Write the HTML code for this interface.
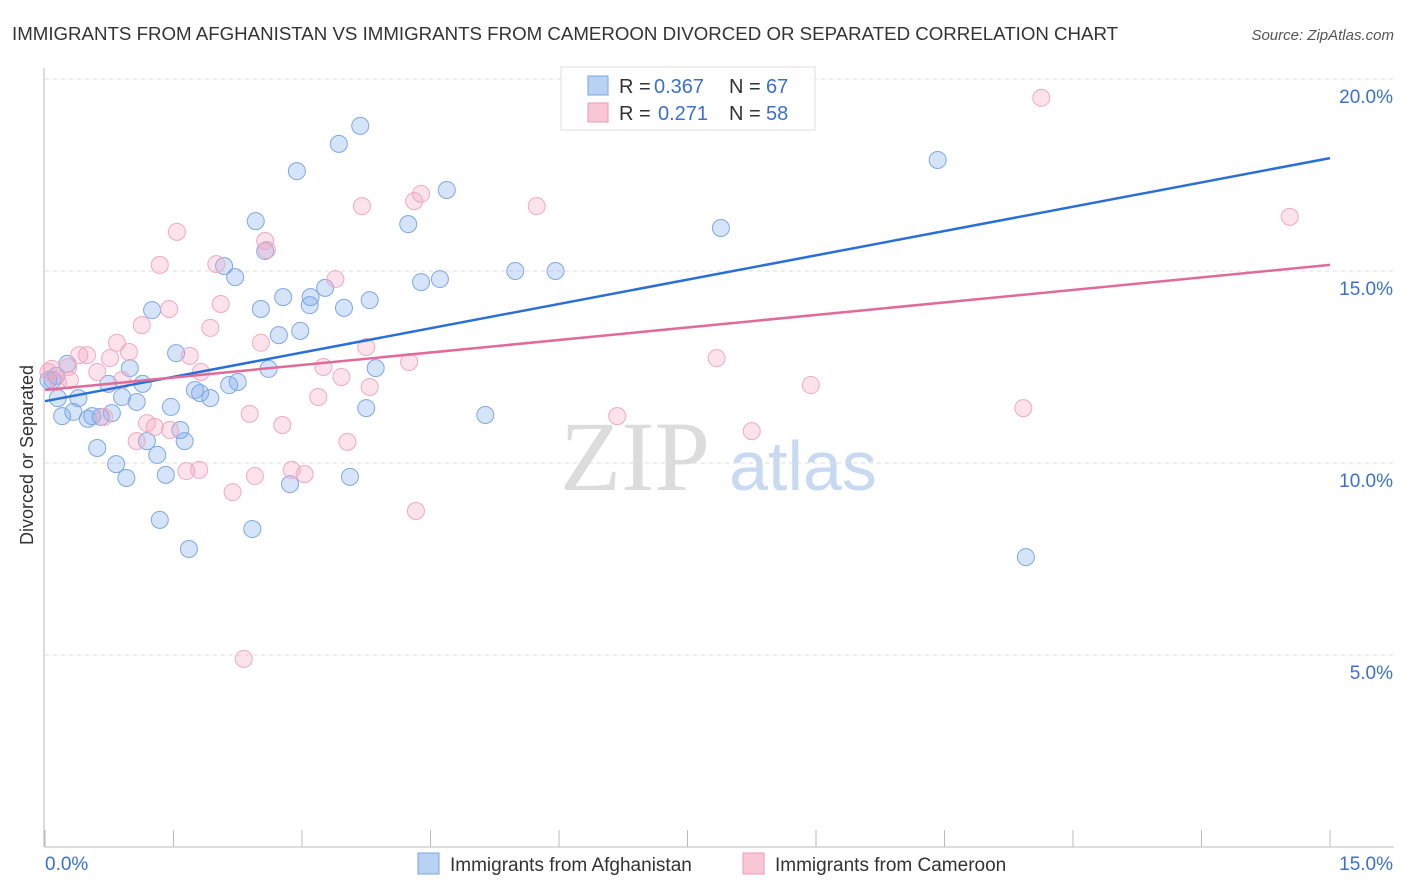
<!DOCTYPE html>
<html><head><meta charset="utf-8"><style>
body{margin:0;background:#fff;font-family:"Liberation Sans",sans-serif;}
svg{display:block}
</style></head><body>
<svg id="chart" width="1406" height="892">
<text x="12" y="40" font-size="18.7" fill="#333">IMMIGRANTS FROM AFGHANISTAN VS IMMIGRANTS FROM CAMEROON DIVORCED OR SEPARATED CORRELATION CHART</text>
<text x="1394" y="40" font-size="15" fill="#555" font-style="italic" text-anchor="end">Source: ZipAtlas.com</text>
<text x="33" y="455" font-size="18" fill="#333" text-anchor="middle" transform="rotate(-90 33 455)">Divorced or Separated</text>
<g>
<text x="635" y="490" font-family="Liberation Serif,serif" font-size="100" fill="#dcdcdc" text-anchor="middle">ZIP</text>
<text x="803" y="490" font-size="70" fill="#c8daf2" text-anchor="middle">atlas</text>
</g>
<g id="grid"></g><g id="axes"></g><g id="pts"></g><g id="trend"></g>
<g>
<rect x="561" y="67" width="254" height="63" fill="#fff" stroke="#ddd"/>
<rect x="588" y="76" width="20" height="19" fill="#b8d2f4" stroke="#7aa6e6"/>
<rect x="588" y="103" width="20" height="19" fill="#f9c6d6" stroke="#ee9ab6"/>
<text x="619" y="93" font-size="20" fill="#333">R =</text>
<text x="654" y="93" font-size="20" fill="#3a70d0">0.367</text>
<text x="729" y="93" font-size="20" fill="#333">N =</text>
<text x="766" y="93" font-size="20" fill="#3a70d0">67</text>
<text x="619" y="120" font-size="20" fill="#333">R =</text>
<text x="658" y="120" font-size="20" fill="#3a70d0">0.271</text>
<text x="729" y="120" font-size="20" fill="#333">N =</text>
<text x="766" y="120" font-size="20" fill="#3a70d0">58</text>
</g>
<g>
<rect x="418" y="853" width="21" height="21" fill="#b8d2f4" stroke="#7aa6e6"/>
<text x="450" y="871" font-size="19" fill="#333">Immigrants from Afghanistan</text>
<rect x="743" y="853" width="21" height="21" fill="#f9c6d6" stroke="#ee9ab6"/>
<text x="775" y="871" font-size="19" fill="#333">Immigrants from Cameroon</text>
</g>
</svg>
<script>
const blueX=[3.68,3.43,2.94,4.69,4.24,2.46,2.57,2.09,2.22,5.49,5.96,4.39,4.61,3.27,2.78,3.10,3.09,3.79,3.49,2.52,1.25,2.98,2.73,1.53,0.26,0.99,2.61,3.86,0.13,0.04,0.74,1.14,2.25,2.15,1.75,1.81,0.39,0.90,0.15,1.07,1.93,1.47,3.75,5.14,0.33,0.20,0.55,0.65,0.78,1.58,1.19,1.63,0.61,1.31,0.83,1.41,0.95,3.56,2.86,1.34,2.42,1.68,7.89,10.42,11.45,0.09,0.50];
const blueY=[18.78,18.31,17.60,17.11,16.22,16.30,15.52,15.13,14.84,15.0,15.0,14.71,14.79,14.56,14.32,14.32,14.11,14.24,14.04,14.01,13.98,13.44,13.33,12.86,12.58,12.47,12.45,12.47,12.27,12.16,12.06,12.06,12.11,12.03,11.90,11.82,11.69,11.72,11.69,11.59,11.69,11.46,11.43,11.25,11.33,11.22,11.22,11.20,11.30,10.86,10.57,10.57,10.39,10.21,9.97,9.69,9.61,9.64,9.45,8.52,8.28,7.76,16.12,17.89,7.55,12.16,11.15];
const pinkX=[11.63,14.53,5.74,4.39,4.31,3.70,1.54,2.57,2.59,1.34,2.00,3.39,2.05,1.45,1.13,1.93,0.84,0.98,2.52,3.75,0.40,0.49,0.76,1.69,0.27,0.08,4.25,3.25,1.82,0.61,0.90,0.29,0.15,3.46,3.79,3.19,8.94,7.84,2.39,11.42,6.68,1.19,2.77,1.28,1.46,8.25,1.07,3.53,1.65,1.80,2.88,3.03,2.45,2.19,4.33,2.32,0.04,0.69];
const pinkY=[19.51,16.41,16.69,17.01,16.82,16.69,16.02,15.78,15.55,15.16,15.18,14.79,14.14,14.01,13.59,13.52,13.13,12.89,13.13,13.02,12.81,12.81,12.73,12.79,12.50,12.45,12.63,12.50,12.37,12.37,12.16,12.16,12.11,12.24,11.98,11.72,12.03,12.73,11.28,11.43,11.22,11.04,10.99,10.94,10.86,10.83,10.57,10.55,9.79,9.82,9.82,9.71,9.66,9.24,8.75,4.90,12.37,11.20];
const blueTrend=[11.61,17.94];
const pinkTrend=[11.9,15.16];
const yTicks=[5,10,15,20];
const xTickLabels=["0.0%","15.0%"];
const NS='http://www.w3.org/2000/svg';
const X=v=>45+v*(1285/15), Y=v=>847-v*38.4;
function mk(t,a,p){const e=document.createElementNS(NS,t);for(const k in a)e.setAttribute(k,a[k]);p.appendChild(e);return e;}
const grid=document.getElementById('grid'),axes=document.getElementById('axes');
yTicks.forEach(v=>{
 const l=mk('line',{x1:45,x2:1394,y1:Y(v),y2:Y(v),stroke:'#ddd','stroke-dasharray':'4 4'},grid);
 
 
 const t=mk('text',{x:1393,y:Y(v)+24,'font-size':19,fill:'#3a70d0','text-anchor':'end'},axes);
 t.textContent=v.toFixed(1)+'%';
 
 
});
mk('line',{x1:44,x2:44,y1:68,y2:847,stroke:'#bbb'},axes);
mk('line',{x1:44,x2:1394,y1:847,y2:847,stroke:'#bbb'},axes);
for(let i=0;i<=10;i++){const x=X(i*1.5);mk('line',{x1:x,x2:x,y1:830,y2:847,stroke:'#bbb'},axes);}
const t0=mk('text',{x:45,y:870,'font-size':19,fill:'#3a70d0'},axes);t0.textContent=xTickLabels[0];


const t1=mk('text',{x:1393,y:870,'font-size':19,fill:'#3a70d0','text-anchor':'end'},axes);t1.textContent=xTickLabels[1];


const pts=document.getElementById('pts');
blueX.forEach((v,i)=>{const c=mk('circle',{cx:X(v),cy:Y(blueY[i]),r:8.5,fill:'rgba(120,165,235,0.3)',stroke:'#7ea8e4','stroke-width':1},pts);
 
 });
pinkX.forEach((v,i)=>{const c=mk('circle',{cx:X(v),cy:Y(pinkY[i]),r:8.5,fill:'rgba(245,160,190,0.3)',stroke:'#efaac2','stroke-width':1},pts);
 
 });
const tr=document.getElementById('trend');
const bl=mk('line',{x1:X(0),y1:Y(blueTrend[0]),x2:X(15),y2:Y(blueTrend[1]),stroke:'#2a6fd6','stroke-width':2.5},tr);


const pl=mk('line',{x1:X(0),y1:Y(pinkTrend[0]),x2:X(15),y2:Y(pinkTrend[1]),stroke:'#e06b9a','stroke-width':2.5},tr);


</script>
</body></html>
